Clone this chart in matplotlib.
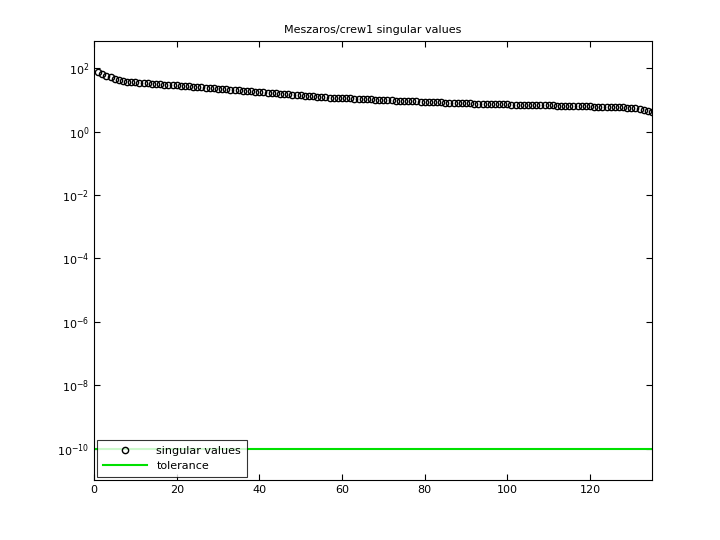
import matplotlib
matplotlib.use("Agg")
import matplotlib.pyplot as plt
import numpy as np

# log10 des valeurs singulières
log_sv = [
    1.87, 1.82, 1.76, 1.71, 1.66, 1.62, 1.59, 1.57, 1.56, 1.55,
    1.54, 1.53, 1.52, 1.51, 1.50, 1.49, 1.48, 1.47, 1.46, 1.45,
    1.44, 1.43, 1.42, 1.41, 1.40, 1.39, 1.38, 1.37, 1.36, 1.35,
    1.34, 1.33, 1.32, 1.31, 1.30, 1.29, 1.28, 1.27, 1.26, 1.24,
    1.23, 1.22, 1.21, 1.20, 1.19, 1.18, 1.17, 1.16, 1.15, 1.14,
    1.13, 1.12, 1.11, 1.10, 1.09, 1.08, 1.07, 1.07, 1.06, 1.05,
    1.04, 1.04, 1.03, 1.03, 1.02, 1.01, 1.01, 1.00, 1.00, 0.99,
    0.99, 0.98, 0.97, 0.97, 0.96, 0.96, 0.95, 0.95, 0.94, 0.94,
    0.93, 0.93, 0.92, 0.92, 0.91, 0.91, 0.90, 0.90, 0.89, 0.89,
    0.89, 0.88, 0.88, 0.88, 0.87, 0.87, 0.87, 0.86, 0.86, 0.86,
    0.85, 0.85, 0.85, 0.84, 0.84, 0.84, 0.83, 0.83, 0.83, 0.82,
    0.82, 0.81, 0.81, 0.81, 0.80, 0.80, 0.80, 0.79, 0.79, 0.79,
    0.78, 0.78, 0.78, 0.77, 0.77, 0.77, 0.76, 0.76, 0.75, 0.74,
    0.73, 0.71, 0.69, 0.66, 0.62,
]
tolerance = 1e-10
x_range = [0, 135]

sv = 10.0 ** np.array(log_sv)
idx = np.arange(1, len(sv) + 1)

plt.rcParams.update({'font.size': 8})
fig = plt.figure(figsize=(7.2, 5.4), dpi=100)
ax = fig.add_axes([0.1306, 0.111, 0.775, 0.813])

ax.semilogy(idx, sv, 'o', mfc='none', mec='black', mew=1.0, ms=4.5,
            label='singular values')
ax.semilogy(x_range, [tolerance, tolerance], color='#00e000', lw=1.5,
            label='tolerance')

ax.set_xlim(x_range)
ax.set_ylim(10 ** -10.98, 10 ** 2.85)
ax.set_yticks([10.0 ** k for k in range(-10, 3, 2)])
ax.minorticks_off()
ax.set_xticks(range(0, 121, 20))
ax.tick_params(direction='in', top=True, right=True, length=4)
ax.set_title('Meszaros/crew1 singular values', fontsize=8)

leg = ax.legend(loc='lower left', fancybox=False, edgecolor='black',
                borderaxespad=0.3, handlelength=4, borderpad=0.5)
leg.get_frame().set_linewidth(0.8)

fig.savefig('out.png', dpi=100)
